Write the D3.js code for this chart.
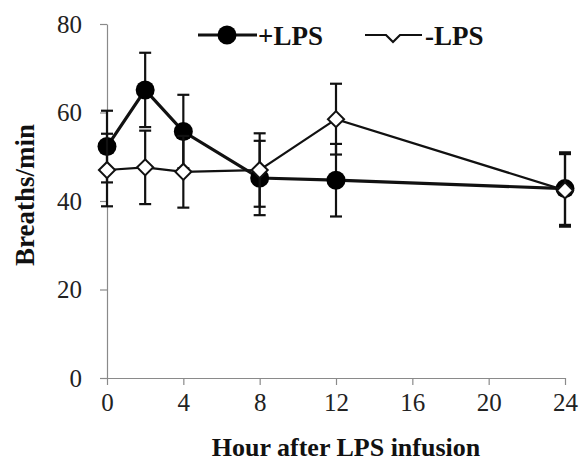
<!DOCTYPE html>
<html>
<head>
<meta charset="utf-8">
<script src="https://cdn.jsdelivr.net/npm/d3@7"></script>
<style>
  body { margin: 0; background: #fff; }
  svg { display: block; font-family: "Liberation Serif", "Times New Roman", serif; }
</style>
</head>
<body>
<div id="chart"></div>
<script>
var hours = [0, 2, 4, 8, 12, 24];
var plusLPS = [52.3, 65.1, 55.7, 45.2, 44.7, 42.8];
var plusErr = [8.1, 8.4, 8.3, 8.4, 8.2, 8.2];
var minusLPS = [47.0, 47.6, 46.6, 47.0, 58.5, 42.4];
var minusErr = [8.2, 8.3, 8.1, 8.3, 8.0, 8.2];
var xTicks = [0, 4, 8, 12, 16, 20, 24];
var yTicks = [0, 20, 40, 60, 80];
var seriesNames = ["+LPS", "-LPS"];

var width = 582, height = 464;

var xScale = d3.scaleLinear().domain([0, 24]).range([107, 565]);
var yScale = d3.scaleLinear().domain([0, 80]).range([378, 24]);

var svg = d3.select("#chart").append("svg")
    .attr("width", width)
    .attr("height", height);

/* Axes */
var xAxis = d3.axisBottom(xScale).tickValues(xTicks).tickSize(7).tickSizeOuter(0).tickPadding(8);
var yAxis = d3.axisLeft(yScale).tickValues(yTicks).tickSize(7).tickSizeOuter(0).tickPadding(18);

var gx = svg.append("g")
    .attr("transform", `translate(0, ${yScale(0)})`)
    .call(xAxis);
var gy = svg.append("g")
    .attr("transform", `translate(${xScale(0)}, 0)`)
    .call(yAxis);

[gx, gy].forEach(g => {
    g.select(".domain").attr("stroke", "#8a8a8a").attr("stroke-width", 1.2);
    g.selectAll(".tick line").attr("stroke", "#8a8a8a").attr("stroke-width", 1.2);
    g.selectAll(".tick text")
        .style("font-family", "'Liberation Serif', 'Times New Roman', serif")
        .style("font-size", "25px")
        .attr("fill", "#222");
});

svg.append("text")
    .attr("x", 346)
    .attr("y", 456)
    .attr("text-anchor", "middle")
    .style("font-size", "26px")
    .style("font-weight", "bold")
    .attr("fill", "#111")
    .text("Hour after LPS infusion");

svg.append("text")
    .attr("transform", "translate(34, 195) rotate(-90)")
    .attr("text-anchor", "middle")
    .style("font-size", "27px")
    .style("font-weight", "bold")
    .attr("fill", "#111")
    .text("Breaths/min");

/* Series */
var series = [
    { name: seriesNames[0], values: hours.map((h, i) => ({ h: h, v: plusLPS[i], e: plusErr[i] })), filled: true },
    { name: seriesNames[1], values: hours.map((h, i) => ({ h: h, v: minusLPS[i], e: minusErr[i] })), filled: false }
];

var line = d3.line()
    .x(d => xScale(d.h))
    .y(d => yScale(d.v));

var diamond = d3.symbol().type(d3.symbolSquare).size(130);

series.forEach(s => {
    var g = svg.append("g").attr("class", "series");

    // error bars
    var eb = g.selectAll(".err")
        .data(s.values).enter()
        .append("g")
        .attr("class", "err")
        .attr("stroke", "#111")
        .attr("stroke-width", 2.2);
    eb.append("line")
        .attr("x1", d => xScale(d.h)).attr("x2", d => xScale(d.h))
        .attr("y1", d => yScale(d.v - d.e)).attr("y2", d => yScale(d.v + d.e));
    eb.append("line")
        .attr("x1", d => xScale(d.h) - 6).attr("x2", d => xScale(d.h) + 6)
        .attr("y1", d => yScale(d.v + d.e)).attr("y2", d => yScale(d.v + d.e));
    eb.append("line")
        .attr("x1", d => xScale(d.h) - 6).attr("x2", d => xScale(d.h) + 6)
        .attr("y1", d => yScale(d.v - d.e)).attr("y2", d => yScale(d.v - d.e));

    g.append("path")
        .attr("d", line(s.values))
        .attr("fill", "none")
        .attr("stroke", "#111")
        .attr("stroke-width", s.filled ? 3.2 : 2.2);

    if (s.filled) {
        g.selectAll("circle")
            .data(s.values).enter()
            .append("circle")
            .attr("cx", d => xScale(d.h))
            .attr("cy", d => yScale(d.v))
            .attr("r", 9.5)
            .attr("fill", "#000");
    } else {
        g.selectAll(".dia")
            .data(s.values).enter()
            .append("path")
            .attr("class", "dia")
            .attr("d", diamond)
            .attr("transform", d => `translate(${xScale(d.h)}, ${yScale(d.v)}) rotate(45)`)
            .attr("fill", "#fff")
            .attr("stroke", "#111")
            .attr("stroke-width", 2);
    }
});

/* Legend */
var legend = svg.append("g").attr("class", "legend");

legend.append("line")
    .attr("x1", 198).attr("x2", 257).attr("y1", 35).attr("y2", 35)
    .attr("stroke", "#111").attr("stroke-width", 3.2);
legend.append("circle")
    .attr("cx", 227).attr("cy", 35).attr("r", 9.5).attr("fill", "#000");
legend.append("text")
    .attr("x", 258).attr("y", 45)
    .style("font-size", "27px").style("font-weight", "bold")
    .attr("fill", "#111")
    .text(seriesNames[0]);

legend.append("path")
    .attr("d", "M365,35 L386,35 L393,42 L400,35 L422,35")
    .attr("fill", "none")
    .attr("stroke", "#111").attr("stroke-width", 2.2);
legend.append("text")
    .attr("x", 425).attr("y", 45)
    .style("font-size", "27px").style("font-weight", "bold")
    .attr("fill", "#111")
    .text(seriesNames[1]);
</script>
</body>
</html>
